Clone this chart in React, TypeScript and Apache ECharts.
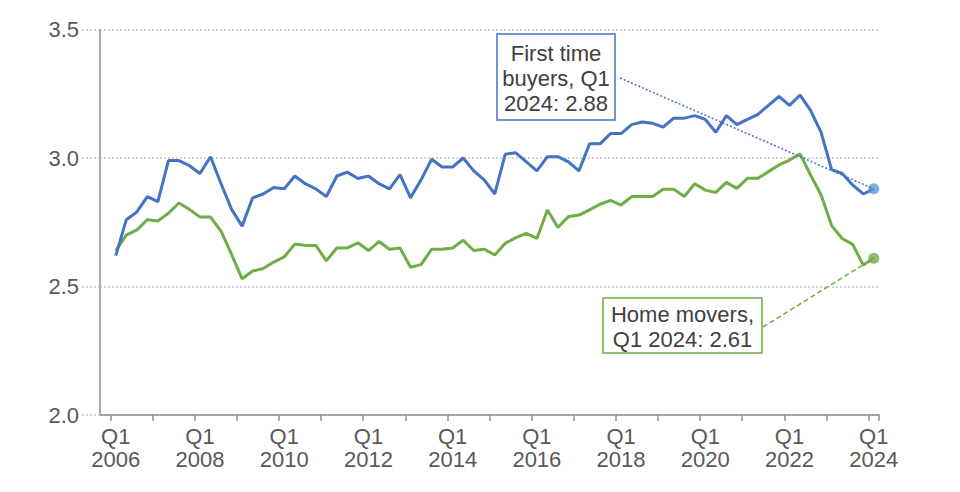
import React, { useEffect, useRef } from "react";
import * as echarts from "echarts";

const startYear = 2006;
const quarterCount = 73; // Q1 2006 .. Q1 2024

const firstTimeBuyers = [
  2.62, 2.76, 2.79, 2.85, 2.83, 2.99, 2.99, 2.97, 2.94, 3.005,
  2.9, 2.8, 2.735, 2.845, 2.86, 2.885, 2.88, 2.93, 2.9, 2.88,
  2.85, 2.93, 2.945, 2.92, 2.93, 2.9, 2.88, 2.935, 2.845, 2.915,
  2.995, 2.965, 2.965, 3.0, 2.95, 2.915, 2.86, 3.015, 3.02, 2.985,
  2.95, 3.005, 3.005, 2.985, 2.95, 3.055, 3.055, 3.095, 3.095, 3.13,
  3.14, 3.135, 3.12, 3.155, 3.155, 3.165, 3.15, 3.1, 3.165, 3.13,
  3.15, 3.17, 3.205, 3.24, 3.205, 3.245, 3.185, 3.1, 2.955, 2.94,
  2.895, 2.86, 2.88,
];

const homeMovers = [
  2.64, 2.7, 2.72, 2.76, 2.755, 2.785, 2.825, 2.8, 2.77, 2.77,
  2.715, 2.625, 2.53, 2.56, 2.57, 2.595, 2.615, 2.665, 2.66, 2.66,
  2.6, 2.65, 2.65, 2.67, 2.64, 2.675, 2.645, 2.65, 2.575, 2.585,
  2.645, 2.645, 2.65, 2.68, 2.64, 2.645, 2.623, 2.668, 2.69, 2.707,
  2.687, 2.798, 2.73, 2.772, 2.778, 2.798, 2.82, 2.835, 2.817, 2.85,
  2.85, 2.85, 2.878, 2.878, 2.85, 2.9, 2.875, 2.866, 2.905, 2.882,
  2.921, 2.921, 2.947, 2.973, 2.992, 3.016, 2.934, 2.856, 2.737, 2.687,
  2.664, 2.584, 2.61,
];

const yTicks = [2.0, 2.5, 3.0, 3.5];

const ftbLabel = "First time\nbuyers, Q1\n2024: 2.88";
const hmLabel = "Home movers,\nQ1 2024: 2.61";

const BLUE = "#4472C4";
const BLUE_DOT = "#5B9BD5";
const GREEN = "#70AD47";
const AXIS_GREY = "#8C8C8C";
const TEXT = "#595959";
const FONT = "'Liberation Sans', Arial, sans-serif";

// categories: a leading empty band, then quarterly labels
const categories: string[] = [""];
for (let i = 0; i < quarterCount; i++) {
  const y = startYear + Math.floor(i / 4);
  const q = (i % 4) + 1;
  categories.push(`Q${q}\n${y}`);
}

export default function App() {
  const ref = useRef<HTMLDivElement>(null);

  useEffect(() => {
    if (!ref.current) return;
    const chart = echarts.init(ref.current, undefined, { renderer: "svg" });
    const lastIdx = firstTimeBuyers.length; // index in categories (offset by 1)
    const option: any = {
      animation: false,
      grid: { left: 100, right: 81, top: 29.5, bottom: 77 },
      xAxis: {
        type: "category",
        data: categories,
        boundaryGap: true,
        axisLine: { show: true, lineStyle: { color: AXIS_GREY, width: 1.5 } },
        axisTick: {
          show: true,
          length: 6,
          interval: (index: number) => index > 0 && (index - 1) % 4 === 0,
          lineStyle: { color: AXIS_GREY, width: 1.5 },
        },
        axisLabel: {
          interval: (index: number) => index > 0 && (index - 1) % 8 === 0,
          color: TEXT,
          fontFamily: FONT,
          fontSize: 22,
          lineHeight: 23,
          margin: 10,
        },
        splitLine: { show: false },
      },
      yAxis: {
        type: "value",
        min: 2.0,
        max: 3.5,
        interval: 0.5,
        axisLine: { show: true, lineStyle: { color: AXIS_GREY, width: 1.5 } },
        axisTick: {
          show: true,
          length: 18,
          lineStyle: { color: "#C8C8C8", type: [2, 2], width: 1.5 },
        },
        axisLabel: {
          color: TEXT,
          fontFamily: FONT,
          fontSize: 22,
          margin: 21,
          formatter: (v: number) => (yTicks.includes(v) ? v.toFixed(1) : ""),
        },
        splitLine: {
          show: true,
          lineStyle: { color: "#C8C8C8", type: [2, 2], width: 1.5 },
        },
      },
      series: [
        {
          name: "First time buyers",
          type: "line",
          data: [null, ...firstTimeBuyers],
          symbol: "none",
          lineStyle: { color: BLUE, width: 3 },
          itemStyle: { color: BLUE },
          z: 3,
        },
        {
          name: "Home movers",
          type: "line",
          data: [null, ...homeMovers],
          symbol: "none",
          lineStyle: { color: GREEN, width: 3 },
          itemStyle: { color: GREEN },
          z: 2,
        },
        {
          type: "scatter",
          data: [[lastIdx, firstTimeBuyers[firstTimeBuyers.length - 1]]],
          symbolSize: 11,
          itemStyle: { color: BLUE_DOT },
          z: 5,
        },
        {
          type: "scatter",
          data: [[lastIdx, homeMovers[homeMovers.length - 1]]],
          symbolSize: 11,
          itemStyle: { color: GREEN },
          z: 5,
        },
      ],
    };
    chart.setOption(option);

    const pFtb = chart.convertToPixel({ gridIndex: 0 }, [lastIdx, firstTimeBuyers[firstTimeBuyers.length - 1]]) as number[];
    const pHm = chart.convertToPixel({ gridIndex: 0 }, [lastIdx, homeMovers[homeMovers.length - 1]]) as number[];

    const ftbBox = { x: 497, y: 34, w: 118, h: 86 };
    const hmBox = { x: 603, y: 298, w: 159, h: 55 };

    chart.setOption({
      graphic: [
        {
          type: "line",
          shape: { x1: ftbBox.x + ftbBox.w + 5, y1: ftbBox.y + 44, x2: pFtb[0], y2: pFtb[1] },
          style: { stroke: BLUE, lineWidth: 1.5, lineDash: [2, 2] },
          z: 10,
        },
        {
          type: "line",
          shape: { x1: hmBox.x + hmBox.w + 1, y1: hmBox.y + 29, x2: pHm[0], y2: pHm[1] },
          style: { stroke: GREEN, lineWidth: 1.5, lineDash: [5, 3] },
          z: 10,
        },
        {
          type: "rect",
          shape: { x: ftbBox.x, y: ftbBox.y, width: ftbBox.w, height: ftbBox.h },
          style: { fill: "#fff", stroke: BLUE, lineWidth: 1.5 },
          z: 11,
        },
        {
          type: "text",
          x: ftbBox.x + ftbBox.w / 2,
          y: ftbBox.y + ftbBox.h / 2 + 1,
          style: {
            text: ftbLabel,
            fill: "#404040",
            font: `22px ${FONT}`,
            lineHeight: 25,
            align: "center",
            verticalAlign: "middle",
          },
          z: 12,
        },
        {
          type: "rect",
          shape: { x: hmBox.x, y: hmBox.y, width: hmBox.w, height: hmBox.h },
          style: { fill: "#fff", stroke: GREEN, lineWidth: 1.5 },
          z: 11,
        },
        {
          type: "text",
          x: hmBox.x + hmBox.w / 2,
          y: hmBox.y + hmBox.h / 2 + 1,
          style: {
            text: hmLabel,
            fill: "#404040",
            font: `22px ${FONT}`,
            lineHeight: 25,
            align: "center",
            verticalAlign: "middle",
          },
          z: 12,
        },
      ],
    });

    return () => chart.dispose();
  }, []);

  return (
    <div
      ref={ref}
      style={{ position: "fixed", left: 0, top: 0, width: 960, height: 492, background: "#fff" }}
    />
  );
}
